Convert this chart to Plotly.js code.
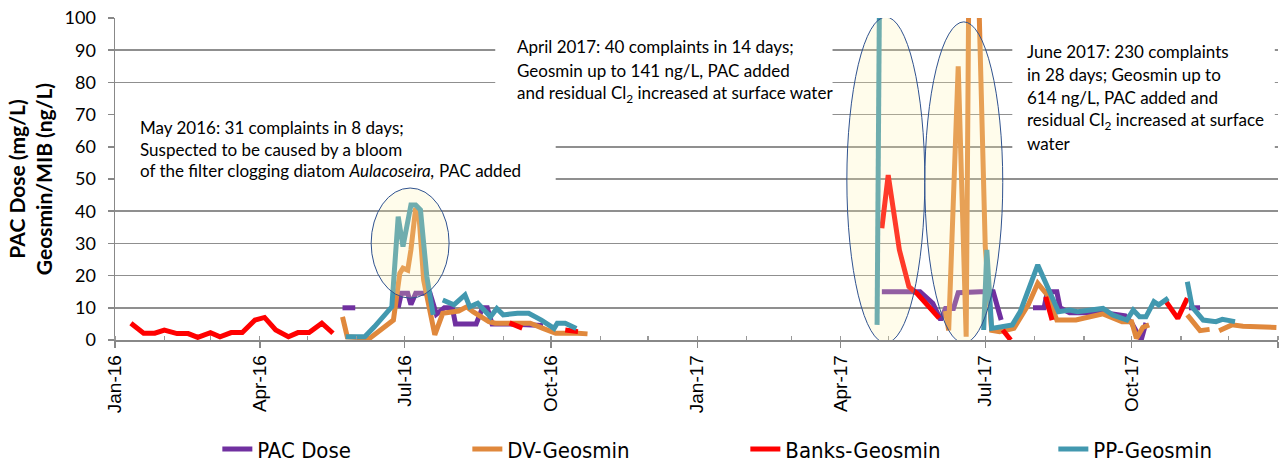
<!DOCTYPE html>
<html>
<head>
<meta charset="utf-8">
<script src="https://cdn.plot.ly/plotly-3.0.1.min.js"></script>
<style>html,body{margin:0;padding:0;background:#fff;}#chart{width:1281px;height:463px;}</style>
</head>
<body>
<div id="chart"></div>
<script>
// ---- data ----
const pacDates = ['2016-05-23','2016-05-31','2016-06-10','2016-06-27','2016-06-29','2016-07-03','2016-07-05','2016-07-08','2016-07-17','2016-07-21','2016-07-26','2016-07-31','2016-08-02','2016-08-15','2016-08-19','2016-08-22','2016-08-25','2016-09-05','2016-09-26','2017-01-01','2017-04-27','2017-05-04','2017-05-11','2017-05-21','2017-05-29','2017-06-03','2017-06-06','2017-06-11','2017-06-14','2017-06-21','2017-06-28','2017-07-06','2017-07-11','2017-07-20','2017-07-31','2017-08-07','2017-08-09','2017-08-15','2017-08-17','2017-08-23','2017-08-30','2017-09-06','2017-09-13','2017-09-20','2017-09-27','2017-10-01','2017-10-07','2017-10-10','2017-10-20','2017-11-06','2017-11-13'];
const pacDose = [10,10,null,10,14.5,14.5,11,14.5,14.5,8,10,10,5,5,10,10,5,5,4.5,null,15,15,15,15,11.4,6.2,9.8,9.8,14.7,15,15,15,6.2,null,10,10,15,15,10,8.5,8.5,8.5,8.5,8,7.5,5.3,0,5.3,null,10,10];

const dvDates = ['2016-05-23','2016-05-26','2016-06-09','2016-06-24','2016-06-28','2016-06-30','2016-07-03','2016-07-05','2016-07-08','2016-07-10','2016-07-13','2016-07-20','2016-07-25','2016-08-04','2016-08-09','2016-08-13','2016-08-23','2016-08-27','2016-09-05','2016-09-18','2016-09-26','2016-10-04','2016-10-18','2016-10-24','2017-01-01','2017-06-06','2017-06-08','2017-06-14','2017-06-19','2017-06-22','2017-07-01','2017-07-05','2017-07-10','2017-07-19','2017-07-28','2017-08-03','2017-08-09','2017-08-15','2017-08-27','2017-09-13','2017-09-25','2017-10-01','2017-10-04','2017-10-08','2017-10-12','2017-10-20','2017-11-05','2017-11-13','2017-11-19','2017-11-22','2017-11-25','2017-12-03','2017-12-10','2017-12-17','2017-12-24','2017-12-31'];
const dvGeosmin = [7.2,1,0.5,6.2,20.7,22.3,21.7,28,41,39,18.6,1.6,8.3,9,10.3,8.8,5.7,5.2,5.2,5.2,3.6,2.1,2.1,1.9,null,9,3,85,1,200,29,3,2.6,3.6,10.9,17.6,14,6.2,6.2,8.1,5.7,5.7,0.5,3.9,4.7,null,7.8,2.9,3.3,null,2.9,4.7,4.3,4.2,4.1,3.9];

const banksDates = ['2016-01-11','2016-01-19','2016-01-26','2016-02-01','2016-02-09','2016-02-16','2016-02-22','2016-03-01','2016-03-07','2016-03-14','2016-03-21','2016-03-29','2016-04-04','2016-04-11','2016-04-19','2016-04-25','2016-05-02','2016-05-10','2016-05-17','2016-06-01','2016-09-05','2016-09-13','2016-09-25','2016-10-10','2016-10-18','2017-01-01','2017-04-27','2017-05-01','2017-05-08','2017-05-14','2017-05-19','2017-05-30','2017-06-02','2017-06-10','2017-07-12','2017-07-17','2017-07-25','2017-08-08','2017-08-12','2017-09-01','2017-10-22','2017-10-30','2017-11-05'];
const banksGeosmin = [5.2,2.1,2.1,3.1,2,2,0.8,2.3,1,2.3,2.3,6.2,7,3.1,1,2.3,2.3,5.2,2.1,null,5.3,3.7,null,3.1,2.6,null,34.7,51.2,28,16.6,14.5,8.3,6.8,null,3.1,0,null,13.4,6.2,null,12.4,6.7,13];

const ppDates = ['2016-05-25','2016-06-06','2016-06-12','2016-06-17','2016-06-23','2016-06-27','2016-06-30','2016-07-05','2016-07-08','2016-07-11','2016-07-15','2016-07-19','2016-07-22','2016-07-25','2016-08-01','2016-08-08','2016-08-11','2016-08-16','2016-08-24','2016-08-28','2016-09-01','2016-09-10','2016-09-17','2016-09-25','2016-10-03','2016-10-05','2016-10-10','2016-10-17','2017-01-01','2017-04-24','2017-04-26','2017-04-28','2017-06-30','2017-07-02','2017-07-05','2017-07-18','2017-07-23','2017-08-03','2017-08-09','2017-08-16','2017-08-23','2017-08-28','2017-09-13','2017-09-19','2017-09-28','2017-10-02','2017-10-06','2017-10-10','2017-10-15','2017-10-18','2017-10-24','2017-10-30','2017-11-05','2017-11-08','2017-11-15','2017-11-23','2017-11-27','2017-12-05'];
const ppGeosmin = [1,1,4.1,7.2,10.3,38.3,29,41.9,41.9,40.4,19.7,7.8,null,12.4,10.9,14,10.3,11.4,7.2,9.8,7.8,8.3,8.3,6.2,3.6,5.2,5.2,3.6,null,4.7,141,null,3.1,28,3.6,4.7,8.8,23.3,16.6,8.8,9.3,8.8,9.8,7.8,6.2,9.3,7.2,7.2,11.9,10.9,13,null,18.1,10.3,6.2,5.7,6.4,5.7];

const seriesNames = ['PAC Dose','DV-Geosmin','Banks-Geosmin','PP-Geosmin'];
const seriesColors = ['#7030A0','#E0883C','#FF0000','#4298AF'];
const yTitleLines = ['PAC Dose (mg/L)','Geosmin/MIB (ng/L)'];

const noteMay = ['May 2016: 31 complaints in 8 days;','Suspected to be caused by a bloom','of the filter clogging diatom <i>Aulacoseira,</i> PAC added'];
const noteApr = ['April 2017: 40 complaints in 14 days;','Geosmin up to 141 ng/L, PAC added','and residual Cl<sub>2</sub> increased at surface water'];
const noteJun = ['June 2017: 230 complaints','in 28 days; Geosmin up to','614 ng/L, PAC added and','residual Cl<sub>2</sub> increased at surface','water'];

// ---- styling / layout ----
const TXT = 'Lato, "Open Sans", sans-serif';
const xs = [pacDates, dvDates, banksDates, ppDates];
const ys = [pacDose, dvGeosmin, banksGeosmin, ppGeosmin];
const legendW = [205, 233, 263, 150];
const traces = seriesNames.map((n, i) => ({
  type: 'scatter', mode: 'lines', name: n, x: xs[i], y: ys[i],
  connectgaps: false, line: {color: seriesColors[i], width: 5},
  legendwidth: legendW[i], hoverinfo: 'x+y+name'
}));

function noteLines(lines, xp, yvals, fs) {
  return lines.map((t, k) => ({
    xref: 'paper', yref: 'y', x: xp, y: yvals[k], xanchor: 'left', yanchor: 'middle',
    text: t, showarrow: false, align: 'left', font: {family: TXT, size: fs, color: '#000'}
  }));
}
const annotations = [].concat(
  noteLines(noteMay, 0.0198, [66.0, 59.3, 52.6], 17),
  noteLines(noteApr, 0.344, [91.0, 83.6, 76.4], 17),
  noteLines(noteJun, 0.7825, [89.5, 82.3, 75.2, 68.1, 61.1], 17)
);

const shapes = [
  // white text-box backgrounds hiding the gridlines
  {type:'rect', layer:'between', xref:'x', yref:'y', x0:'2016-01-01', x1:'2016-10-04', y0:46, y1:74, fillcolor:'#fff', line:{width:0}},
  {type:'rect', layer:'between', xref:'x', yref:'y', x0:'2016-08-27', x1:'2017-03-27', y0:66, y1:93, fillcolor:'#fff', line:{width:0}},
  {type:'rect', layer:'between', xref:'x', yref:'y', x0:'2017-07-18', x1:'2017-12-30', y0:56, y1:93, fillcolor:'#fff', line:{width:0}},
  // highlight ellipses
  {type:'circle', layer:'above', xref:'x', yref:'y', x0:'2016-06-10', x1:'2016-07-29', y0:13.0, y1:47.2, fillcolor:'rgba(255,244,170,0.24)', line:{color:'#2F5290', width:1}},
  {type:'circle', layer:'above', xref:'x', yref:'y', x0:'2017-04-05', x1:'2017-05-24', y0:-0.9, y1:100.3, fillcolor:'rgba(255,244,170,0.24)', line:{color:'#2F5290', width:1}},
  {type:'circle', layer:'above', xref:'x', yref:'y', x0:'2017-05-24', x1:'2017-07-12', y0:-0.9, y1:98.8, fillcolor:'rgba(255,244,170,0.24)', line:{color:'#2F5290', width:1}}
];

const layout = {
  width: 1281, height: 463,
  margin: {l: 115, r: 3, t: 18, b: 123, autoexpand: false},
  paper_bgcolor: '#fff', plot_bgcolor: '#fff',
  showlegend: true,
  legend: {orientation: 'h', x: 0.088, xanchor: 'left', yref: 'container', y: 0.030, yanchor: 'middle',
           font: {family: '"Liberation Sans Narrow", "DejaVu Sans Condensed", "Liberation Sans", sans-serif', size: 22, color: '#000'},
           bgcolor: 'rgba(0,0,0,0)', traceorder: 'normal'},
  xaxis: {
    type: 'date', range: ['2016-01-01', '2018-01-01'], automargin: false,
    tick0: '2016-01-01', dtick: 'M3', tickformat: '%b-%y', tickangle: -90,
    ticks: 'outside', ticklen: 6, tickwidth: 1.5, tickcolor: '#888',
    showgrid: false, zeroline: false, showline: true, linecolor: '#888', linewidth: 1.5,
    tickfont: {family: '"Liberation Sans", Arial, sans-serif', size: 19, color: '#000'},
    minor: {dtick: 'M1', ticks: 'inside', ticklen: 4, tickwidth: 1.2, tickcolor: '#999', showgrid: false}
  },
  yaxis: {
    range: [0, 100], dtick: 10, tick0: 0, automargin: false,
    ticks: 'outside', ticklen: 6, tickwidth: 1.5, tickcolor: '#888',
    showgrid: true, gridcolor: '#8f8f8f', gridwidth: 1.5,
    zeroline: false, showline: true, linecolor: '#888', linewidth: 1.5,
    ticklabelstandoff: 8,
    tickfont: {family: TXT, size: 18, color: '#000'},
    title: {text: yTitleLines.join('<br>'), standoff: 6,
            font: {family: TXT, size: 21, weight: 'bold', color: '#000'}}
  },
  annotations: annotations,
  shapes: shapes
};

Plotly.newPlot('chart', traces, layout, {displayModeBar: false, staticPlot: true});
</script>
</body>
</html>
